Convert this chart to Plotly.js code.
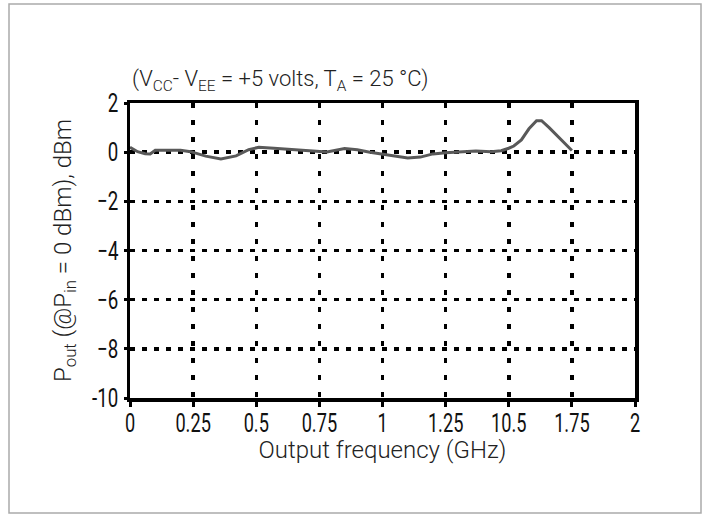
<!DOCTYPE html>
<html>
<head>
<meta charset="utf-8">
<script src="https://cdn.plot.ly/plotly-3.0.1.min.js"></script>
<style>
html,body{margin:0;padding:0;background:#fff;}
#chart{width:707px;height:514px;}
</style>
</head>
<body>
<div id="chart"></div>
<script>
// Output frequency (GHz)
const freqGHz = [0, 0.03, 0.06, 0.08, 0.1, 0.15, 0.2, 0.24, 0.3, 0.36, 0.42, 0.47, 0.51, 0.57, 0.65, 0.73, 0.78, 0.85, 0.9, 0.95, 1.0, 1.05, 1.1, 1.15, 1.2, 1.25, 1.3, 1.37, 1.43, 1.47, 1.5, 1.52, 1.55, 1.58, 1.61, 1.63, 1.66, 1.7, 1.75];
// Pout (@Pin = 0 dBm), dBm
const poutDbm = [0.2, 0.02, -0.06, -0.07, 0.08, 0.09, 0.08, 0.02, -0.16, -0.28, -0.15, 0.1, 0.2, 0.16, 0.1, 0.03, 0.01, 0.15, 0.1, 0.0, -0.07, -0.16, -0.24, -0.2, -0.07, -0.02, 0.0, 0.05, 0.02, 0.06, 0.16, 0.25, 0.5, 0.95, 1.28, 1.28, 1.0, 0.6, 0.07];

const xTickVals = [0, 0.25, 0.5, 0.75, 1, 1.25, 1.5, 1.75, 2];
const xTickText = ["0", "0.25", "0.5", "0.75", "1", "1.25", "10.5", "1.75", "2"];
const yTickVals = [2, 0, -2, -4, -6, -8, -10];
const yTickText = ["2", "0", "\u22122", "\u22124", "\u22126", "\u22128", "-10"];

const tickFont = {family: "Roboto, Liberation Sans, sans-serif", size: 26, color: "#111", weight: 400};
const titleFont = {family: "Roboto, Lato, sans-serif", size: 24, color: "#222", weight: 300};

const trace = {
  x: freqGHz, y: poutDbm, type: "scatter", mode: "lines",
  line: {color: "#595959", width: 3}, showlegend: false, hoverinfo: "skip"
};

const layout = {
  width: 707, height: 514,
  margin: {l: 130, r: 72, t: 103, b: 116},
  paper_bgcolor: "#fff", plot_bgcolor: "#fff",
  xaxis: {
    range: [0, 2], tickvals: xTickVals, ticktext: xTickText, tickfont: tickFont,
    showline: true, mirror: true, linecolor: "#000", linewidth: 3.5,
    showgrid: true, gridcolor: "#000", gridwidth: 3.5, griddash: "5px,12px",
    zeroline: false, ticks: "outside", ticklen: 5, tickwidth: 3, tickcolor: "#000",
    title: {text: "Output frequency (GHz)", font: titleFont, standoff: 0},
    fixedrange: true
  },
  yaxis: {
    range: [-10, 2], tickvals: yTickVals, ticktext: yTickText, tickfont: tickFont,
    showline: true, mirror: true, linecolor: "#000", linewidth: 3.5,
    showgrid: true, gridcolor: "#000", gridwidth: 3.5, griddash: "5px,7px",
    zeroline: false, ticks: "outside", ticklen: 3, tickwidth: 3, tickcolor: "#000",
    title: {text: "P<sub>out</sub> (@P<sub>in</sub> = 0 dBm), dBm", font: titleFont, standoff: 4},
    fixedrange: true
  },
  annotations: [{
    xref: "paper", yref: "paper", x: 0, y: 1, xanchor: "left", yanchor: "bottom", yshift: 6,
    text: "(V<sub>CC</sub>- V<sub>EE</sub> = +5 volts, T<sub>A</sub> = 25 °C)",
    showarrow: false, font: {family: "Roboto, Lato, sans-serif", size: 22, color: "#222", weight: 300}
  }],
  shapes: [{
    type: "rect", xref: "paper", yref: "paper",
    x0: -0.2396, x1: 1.1307, y0: -0.3898, y1: 1.3356,
    line: {color: "#aaaaaa", width: 1.5}, fillcolor: "rgba(0,0,0,0)", layer: "below"
  }]
};

// Narrow (condensed) look for the tick labels, as in the reference
function condense(sel, s, anchorRight, dy) {
  document.querySelectorAll(sel).forEach(t => {
    const b = t.getBBox();
    const cx = anchorRight ? b.x + b.width : b.x + b.width / 2;
    const cy = b.y + b.height / 2;
    const prev = t.getAttribute("transform") || "";
    t.setAttribute("transform", prev + ` translate(0,${dy}) translate(${cx},${cy}) scale(${s},1) translate(${-cx},${-cy})`);
  });
}

Plotly.newPlot("chart", [trace], layout, {staticPlot: true, displayModeBar: false}).then(() => {
  condense(".xtick text", 0.7, false, -6);
  condense(".ytick text", 0.72, true, 0);
  document.querySelectorAll(".g-xtitle text").forEach(t => {
    const prev = t.getAttribute("transform") || "";
    t.setAttribute("transform", "translate(0,-8) " + prev);
  });
});
</script>
</body>
</html>
